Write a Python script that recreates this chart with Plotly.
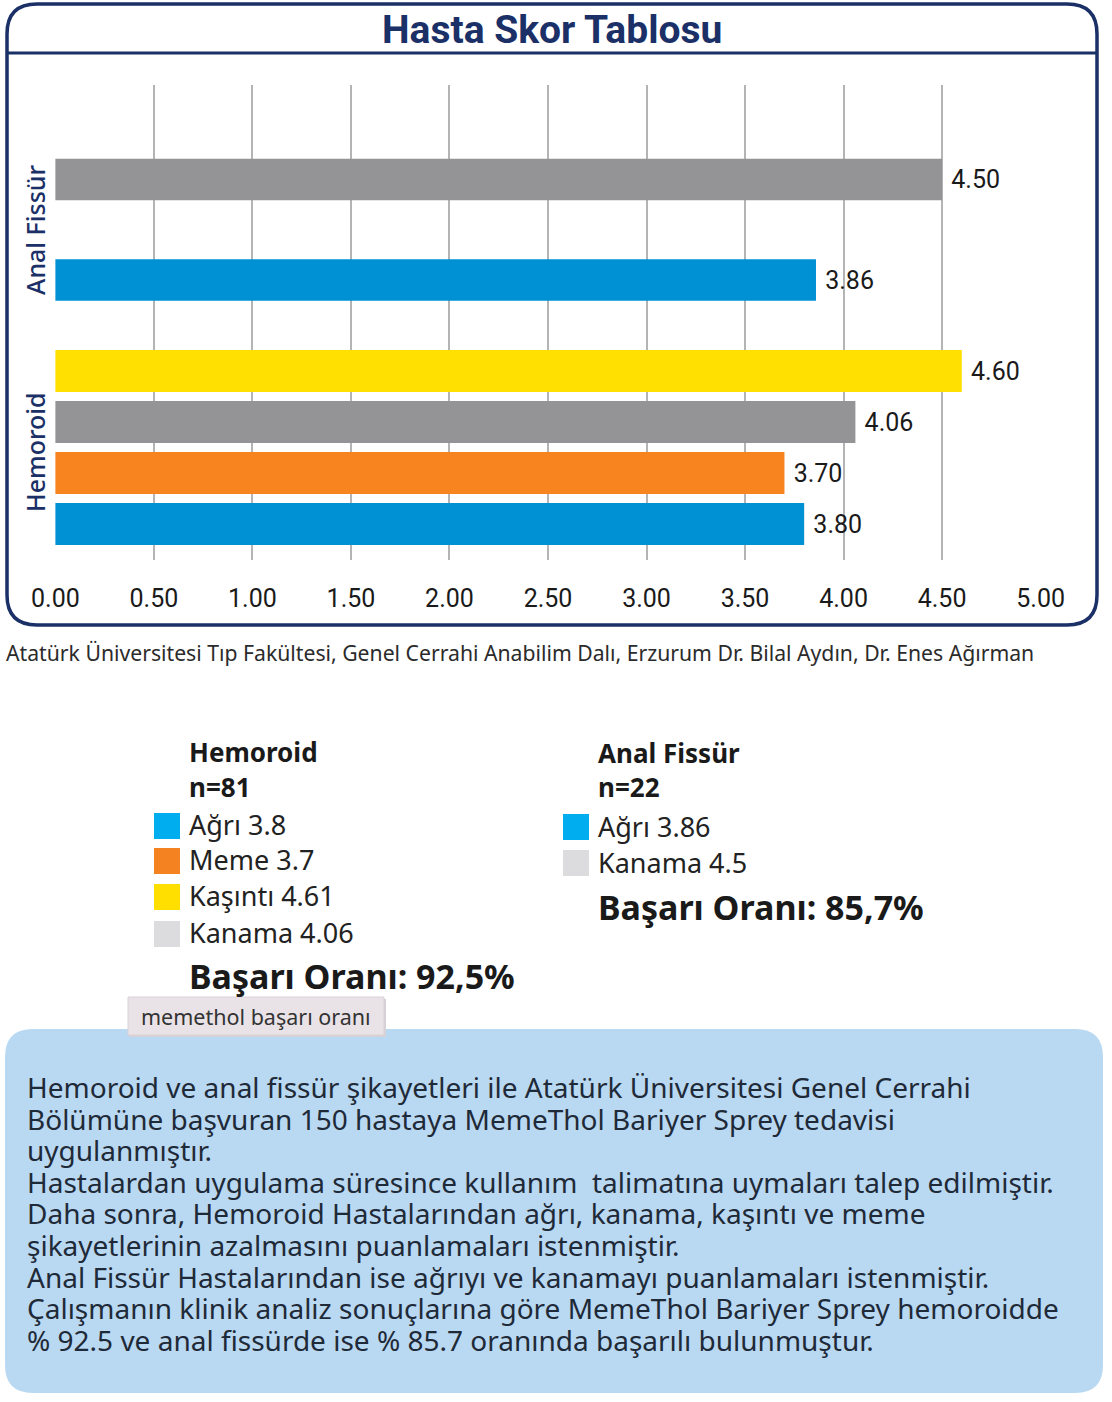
import plotly.graph_objects as go

# ---------------- data ----------------
group_names = ["Hemoroid", "Anal Fissür"]
hem_categories = ["Ağrı", "Meme", "Kaşıntı", "Kanama"]
hem_values = [3.80, 3.70, 4.60, 4.06]
anal_categories = ["Ağrı", "Kanama"]
anal_values = [3.86, 4.50]
hem_bar_order = ["Ağrı", "Meme", "Kanama", "Kaşıntı"]   # bottom to top
anal_bar_order = ["Ağrı", "Kanama"]
x_tick_vals = [0.0, 0.5, 1.0, 1.5, 2.0, 2.5, 3.0, 3.5, 4.0, 4.5, 5.0]
x_tick_text = ["0.00", "0.50", "1.00", "1.50", "2.00", "2.50", "3.00", "3.50", "4.00", "4.50", "5.00"]

hem_n = 81
anal_n = 22
hem_legend_values = ["3.8", "3.7", "4.61", "4.06"]
anal_legend_values = ["3.86", "4.5"]
hem_success = "92,5%"
anal_success = "85,7%"

title_text = "Hasta Skor Tablosu"
source_text = "Atatürk Üniversitesi Tıp Fakültesi, Genel Cerrahi Anabilim Dalı, Erzurum Dr. Bilal Aydın, Dr. Enes Ağırman"
tooltip_text = "memethol başarı oranı"
paragraph_lines = [
    "Hemoroid ve anal fissür şikayetleri ile Atatürk Üniversitesi Genel Cerrahi",
    "Bölümüne başvuran 150 hastaya MemeThol Bariyer Sprey tedavisi",
    "uygulanmıştır.",
    "Hastalardan uygulama süresince kullanım \u00a0talimatına uymaları talep edilmiştir.",
    "Daha sonra, Hemoroid Hastalarından ağrı, kanama, kaşıntı ve meme",
    "şikayetlerinin azalmasını puanlamaları istenmiştir.",
    "Anal Fissür Hastalarından ise ağrıyı ve kanamayı puanlamaları istenmiştir.",
    "Çalışmanın klinik analiz sonuçlarına göre MemeThol Bariyer Sprey hemoroidde",
    "% 92.5 ve anal fissürde ise % 85.7 oranında başarılı bulunmuştur.",
]

# ---------------- styles ----------------
bar_colors = {"Ağrı": "#0090D4", "Meme": "#F7841F", "Kaşıntı": "#FFE000", "Kanama": "#949497"}
swatch_colors = {"Ağrı": "#00AEEF", "Meme": "#F58220", "Kaşıntı": "#FFDF00", "Kanama": "#DCDCDE"}
NAVY = "#1B3067"
COND = "Roboto, Liberation Sans, sans-serif"
SANS = "Noto Sans, Open Sans, sans-serif"

OFF = 0
W, H = 1112, 1402


def fx(p):
    return (p - OFF) / W


def fy(p):
    return 1 - (p - OFF) / H


def rrect(x0, y0, x1, y1, r):
    X0, X1, Y0, Y1 = fx(x0), fx(x1), fy(y0), fy(y1)
    rx, ry = r / W, r / H
    return (f"M {X0+rx},{Y0} L {X1-rx},{Y0} Q {X1},{Y0} {X1},{Y0-ry} "
            f"L {X1},{Y1+ry} Q {X1},{Y1} {X1-rx},{Y1} L {X0+rx},{Y1} "
            f"Q {X0},{Y1} {X0},{Y1+ry} L {X0},{Y0-ry} Q {X0},{Y0} {X0+rx},{Y0} Z")


fig = go.Figure()

# grid subplot (full plot height)
fig.add_trace(go.Scatter(x=[], y=[], xaxis="x", yaxis="y", showlegend=False, hoverinfo="skip"))

label_font = dict(family=COND, size=25, color="#1a1a1a")
fig.add_trace(go.Bar(
    y=hem_categories, x=hem_values, orientation="h", xaxis="x2", yaxis="y2",
    marker=dict(color=[bar_colors[c] for c in hem_categories], line=dict(width=0)),
    width=0.82, texttemplate="\u00a0%{x:.2f}", textposition="outside",
    textfont=label_font, cliponaxis=False,
    constraintext="none", showlegend=False, hoverinfo="skip"))

fig.add_trace(go.Bar(
    y=anal_categories, x=anal_values, orientation="h", xaxis="x2", yaxis="y3",
    marker=dict(color=[bar_colors[c] for c in anal_categories], line=dict(width=0)),
    width=0.413, texttemplate="\u00a0%{x:.2f}", textposition="outside",
    textfont=label_font, cliponaxis=False,
    constraintext="none", showlegend=False, hoverinfo="skip"))

xdom = [fx(55), fx(1041)]
xr = [-0.002, 5.002]

shapes = []
# blue info box
shapes.append(dict(type="path", path=rrect(5, 1029, 1103, 1393, 28), xref="paper", yref="paper",
                   line=dict(width=0), fillcolor="#B9D8F2", layer="below"))
# tooltip
shapes.append(dict(type="rect", x0=fx(129), x1=fx(386), y0=fy(999), y1=fy(1037), xref="paper", yref="paper",
                   line=dict(width=0), fillcolor="#D6D1D6", layer="below"))
shapes.append(dict(type="rect", x0=fx(128), x1=fx(384), y0=fy(997), y1=fy(1035), xref="paper", yref="paper",
                   line=dict(color="#D9D3D8", width=1), fillcolor="#E9E3E8", layer="below"))
# chart frame
shapes.append(dict(type="path", path=rrect(7, 4, 1097, 625, 30), xref="paper", yref="paper",
                   line=dict(color=NAVY, width=3.5), fillcolor="rgba(0,0,0,0)", layer="above"))
shapes.append(dict(type="line", x0=fx(7), x1=fx(1097), y0=fy(53), y1=fy(53), xref="paper", yref="paper",
                   line=dict(color=NAVY, width=3), layer="above"))

annotations = []


def ann(text, x, y, size, family=SANS, color="#1a1a1a", xanchor="left", bold=False, angle=0, weight=None):
    d = dict(text=(f"<b>{text}</b>" if bold else text), x=fx(x), y=fy(y), xref="paper", yref="paper",
             xanchor=xanchor, yanchor="middle", showarrow=False, textangle=angle, borderpad=0,
             font=dict(family=family, size=size, color=color))
    if weight:
        d["font"]["weight"] = weight
    annotations.append(d)


ann(title_text, 552, 30, 39, family=COND, color=NAVY, xanchor="center", bold=True)
ann(group_names[1], 35, 230, 25, color=NAVY, xanchor="center", angle=-90, weight=500)
ann(group_names[0], 35, 452, 25, color=NAVY, xanchor="center", angle=-90, weight=500)
ann(source_text, 5, 652, 21.2, color="#2b2b2b")

# Hemoroid legend block
ann(group_names[0], 188, 752, 26, bold=True)
ann(f"n={hem_n}", 188, 787, 26, bold=True)
hem_rows = [824, 859, 895, 932]
for cat, val, yc in zip(hem_categories, hem_legend_values, hem_rows):
    ann(f"{cat} {val}", 188, yc, 27, color="#222222")
    shapes.append(dict(type="rect", x0=fx(154), x1=fx(180), y0=fy(yc - 11), y1=fy(yc + 15),
                       xref="paper", yref="paper", line=dict(width=0), fillcolor=swatch_colors[cat]))
ann(f"Başarı Oranı: {hem_success}", 188, 976, 34, bold=True)

# Anal fissür legend block
ann(group_names[1], 597, 753, 26, bold=True)
ann(f"n={anal_n}", 597, 787, 26, bold=True)
anal_rows = [826, 862]
for cat, val, yc in zip(anal_categories, anal_legend_values, anal_rows):
    ann(f"{cat} {val}", 597, yc, 27, color="#222222")
    shapes.append(dict(type="rect", x0=fx(563), x1=fx(589), y0=fy(yc - 12), y1=fy(yc + 14),
                       xref="paper", yref="paper", line=dict(width=0), fillcolor=swatch_colors[cat]))
ann(f"Başarı Oranı: {anal_success}", 597, 907, 34, bold=True)

ann(tooltip_text, 256, 1016, 21.5, color="#333333", xanchor="center")

line_y0, line_step = 1087, 31.6
for i, line in enumerate(paragraph_lines):
    ann(line, 26, line_y0 + i * line_step, 28, color="#1f2a38")

fig.update_layout(
    width=W, height=H, autosize=False,
    margin=dict(l=0, r=0, t=0, b=0, pad=0, autoexpand=False),
    paper_bgcolor="white", plot_bgcolor="rgba(0,0,0,0)",
    showlegend=False,
    xaxis=dict(domain=xdom, range=xr, anchor="y", tickmode="array", tickvals=x_tick_vals,
               ticktext=x_tick_text, showgrid=True, gridcolor="#B4B4B4", gridwidth=1.5,
               zeroline=False, showline=False, ticks="outside", ticklen=16, automargin=False,
               tickcolor="rgba(0,0,0,0)", tickfont=dict(family=COND, size=25, color="#1a1a1a"),
               fixedrange=True),
    yaxis=dict(domain=[fy(560), fy(85)], range=[0, 1], visible=False, fixedrange=True, automargin=False),
    xaxis2=dict(domain=xdom, range=xr, anchor="y2", visible=False, showgrid=False, fixedrange=True,
                automargin=False),
    yaxis2=dict(domain=[fy(549.5), fy(345.5)], range=[-0.5, 3.5], type="category",
                categoryorder="array", categoryarray=hem_bar_order, visible=False, fixedrange=True,
                automargin=False),
    yaxis3=dict(domain=[fy(330.25), fy(129.25)], range=[-0.5, 1.5], type="category",
                categoryorder="array", categoryarray=anal_bar_order, visible=False, fixedrange=True,
                automargin=False),
    shapes=shapes, annotations=annotations,
)

fig.write_html("out.html", config={"displayModeBar": False},
               post_script="document.body.style.margin='0px';")
